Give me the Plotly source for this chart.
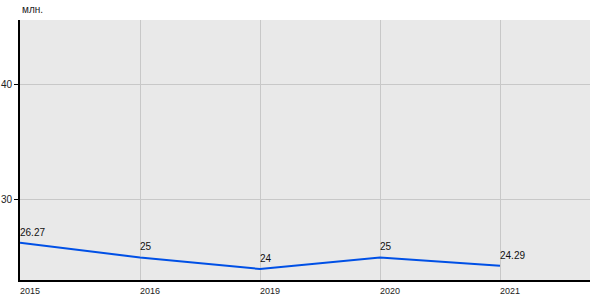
import plotly.graph_objects as go

years = ["2015", "2016", "2019", "2020", "2021"]
values = [26.27, 25, 24, 25, 24.29]
labels = ["26.27", "25", "24", "25", "24.29"]
y_ticks = [30, 40]

xs = list(range(len(years)))

fig = go.Figure()
fig.add_trace(go.Scatter(
    x=xs, y=values, mode="lines",
    line=dict(color="#0050e6", width=2), hoverinfo="skip", showlegend=False,
))

label_annotations = [
    dict(x=x, y=v, text=t, xref="x", yref="y", xanchor="left", yanchor="bottom",
         xshift=-2, yshift=3, showarrow=False, font=dict(size=10, color="#111"))
    for x, v, t in zip(xs, values, labels)
]

fig.update_layout(
    width=600, height=300,
    margin=dict(l=20, r=10, t=20, b=20),
    paper_bgcolor="white", plot_bgcolor="#e9e9e9",
    font=dict(family="Arial, Liberation Sans, sans-serif", size=10, color="#222"),
    annotations=[dict(text="млн.", x=0, y=1, xref="paper", yref="paper",
                      xanchor="left", yanchor="bottom", yshift=3, showarrow=False,
                      font=dict(size=10, color="#222"))] + label_annotations,
)
fig.update_xaxes(
    range=[0, 4.75], tickvals=xs, ticktext=years, showgrid=True,
    gridcolor="#c8c8c8", gridwidth=1, zeroline=False, showline=True,
    linecolor="black", linewidth=2, ticks="", ticklabelshift=10,
    ticklabelstandoff=1, tickfont=dict(size=9), fixedrange=True, automargin=False,
)
fig.update_yaxes(
    range=[23.04, 45.65], tickvals=y_ticks, showgrid=True,
    gridcolor="#c8c8c8", gridwidth=1, zeroline=False, showline=True,
    linecolor="black", linewidth=2, ticks="outside", ticklen=4,
    tickcolor="black", tickfont=dict(size=10), fixedrange=True, automargin=False,
)

fig.write_html("out.html")
